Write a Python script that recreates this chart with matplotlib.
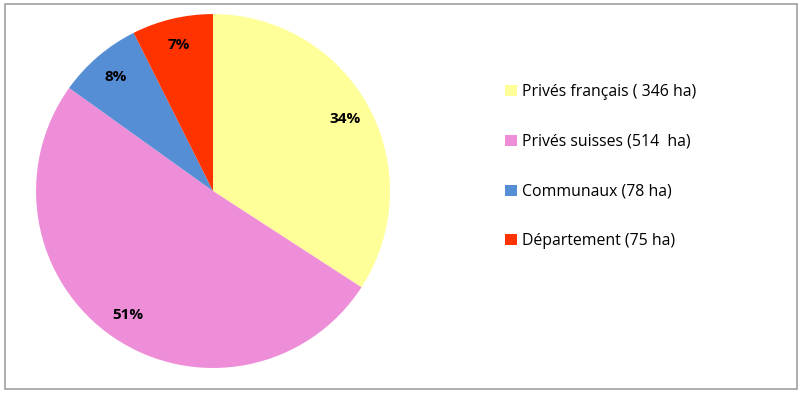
import matplotlib
matplotlib.use("Agg")
import matplotlib.pyplot as plt
from matplotlib.patches import Rectangle, Patch

labels = ["Privés français ( 346 ha)", "Privés suisses (514  ha)", "Communaux (78 ha)", "Département (75 ha)"]
values = [346, 514, 78, 75]
colors = ["#FFFF99", "#EE8ED8", "#558ED5", "#FF3300"]

plt.rcParams['font.family'] = ['Open Sans', 'DejaVu Sans']

fig = plt.figure(figsize=(8, 3.95), dpi=100)
ax = fig.add_axes([0.045, 0.0684, 0.4425, 0.896])
wedges, texts, autotexts = ax.pie(values, colors=colors, startangle=90, counterclock=False,
                                  autopct='%1.0f%%', pctdistance=0.85, radius=1,
                                  textprops=dict(fontsize=11, fontweight='bold', color='black'))
ax.set_xlim(-1, 1)
ax.set_ylim(-1, 1)
ax.set_aspect('equal')
ax.axis('off')

handles = [Patch(facecolor=c, edgecolor='none') for c in colors]
fig.legend(handles, labels, loc='upper left', bbox_to_anchor=(0.614, 0.823), frameon=False,
           fontsize=11.4, labelspacing=2.13, handlelength=0.7, handleheight=0.7, handletextpad=0.35)

fig.patches.append(Rectangle((0.006, 0.015), 0.99, 0.975, transform=fig.transFigure,
                             fill=False, edgecolor='#A0A0A0', linewidth=1.2))
fig.savefig("out.png", dpi=100)
